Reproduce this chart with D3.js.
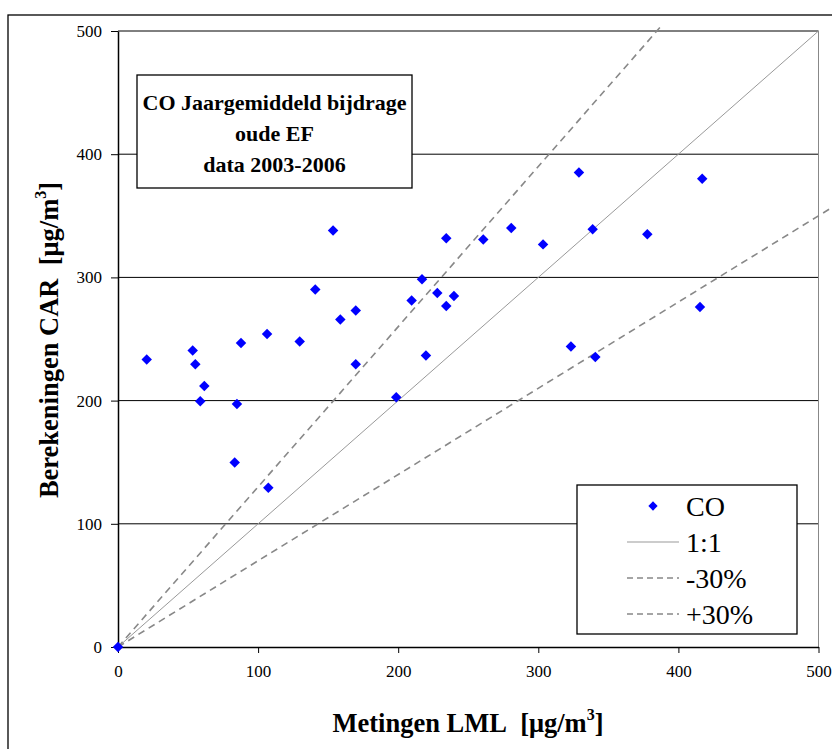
<!DOCTYPE html>
<html>
<head>
<meta charset="utf-8">
<script src="https://cdn.jsdelivr.net/npm/d3@7"></script>
<style>
  html, body { margin: 0; padding: 0; background: #fff; }
  svg { display: block; }
  svg text { font-family: "Liberation Serif", "Times New Roman", serif; }
</style>
</head>
<body>
<svg id="chart" width="832" height="749"></svg>
<script>
// Measured (LML) vs calculated (CAR) annual mean CO contribution, µg/m3
const measured = [0, 20.5, 53.3, 55.2, 61.6, 58.7, 84.9, 87.8, 106.4, 83.3, 107.3,
  153.5, 140.8, 129.7, 158.7, 169.7, 169.7, 198.6, 209.6, 234.3, 260.7, 280.7,
  303.4, 217.0, 227.9, 239.8, 234.3, 219.8, 329.0, 417.0, 338.8, 377.8, 415.4,
  323.3, 340.7];
const calculated = [0, 233.3, 240.6, 229.5, 211.9, 199.5, 197.3, 246.8, 254.1, 149.8, 129.2,
  338.0, 290.1, 247.9, 265.8, 273.1, 229.5, 202.8, 281.2, 331.7, 330.7, 340.1,
  326.8, 298.5, 287.3, 284.9, 276.8, 236.6, 385.2, 380.1, 339.0, 335.0, 276.0,
  243.9, 235.4];

// Reference lines: y = factor * x over the given x range
const refNames = ["1:1", "-30%", "+30%"];
const refFactors = [1, 0.7, 1.3];
const refXEnd = [500, 530, 388];

const xTicks = [0, 100, 200, 300, 400, 500];
const yTicks = [0, 100, 200, 300, 400, 500];
const titleLines = ["CO Jaargemiddeld bijdrage", "oude EF", "data 2003-2006"];
const legendLabels = ["CO", "1:1", "-30%", "+30%"];

const SERIF = "Liberation Serif, Times New Roman, serif";
const svg = d3.select("#chart");
const plot = { left: 118, right: 818.5, top: 31, bottom: 647 };

const x = d3.scaleLinear().domain([0, 500]).range([plot.left, plot.right]);
const y = d3.scaleLinear().domain([0, 500]).range([plot.bottom, plot.top]);

// outer chart frame
svg.append("rect")
  .attr("x", 8).attr("y", 15).attr("width", 900).attr("height", 900)
  .attr("fill", "none").attr("stroke", "#000").attr("stroke-width", 1.3);

// horizontal gridlines
svg.append("g").selectAll("line")
  .data(yTicks.filter(d => d > 0))
  .join("line")
  .attr("x1", plot.left).attr("x2", plot.right)
  .attr("y1", d => y(d)).attr("y2", d => y(d))
  .attr("stroke", "#000").attr("stroke-width", 1);

// right edge of plot area
svg.append("line")
  .attr("x1", plot.right).attr("x2", plot.right)
  .attr("y1", plot.top).attr("y2", plot.bottom)
  .attr("stroke", "#888").attr("stroke-width", 1);

// reference lines
const refStyle = [
  { stroke: "#999", width: 1, dash: null },
  { stroke: "#888", width: 1.6, dash: "7,5" },
  { stroke: "#888", width: 1.6, dash: "7,5" }
];
refNames.forEach((name, i) => {
  const f = refFactors[i];
  const pts = [[0, 0], [refXEnd[i], refXEnd[i] * f]];
  svg.append("path")
    .datum(pts)
    .attr("d", d3.line().x(d => x(d[0])).y(d => y(d[1])))
    .attr("fill", "none")
    .attr("stroke", refStyle[i].stroke)
    .attr("stroke-width", refStyle[i].width)
    .attr("stroke-dasharray", refStyle[i].dash);
});

// axes
const xAxis = svg.append("g")
  .attr("transform", `translate(0,${plot.bottom})`)
  .call(d3.axisBottom(x).tickValues(xTicks).tickSize(6).tickPadding(12).tickSizeOuter(0));
const yAxis = svg.append("g")
  .attr("transform", `translate(${plot.left},0)`)
  .call(d3.axisLeft(y).tickValues(yTicks).tickSize(7).tickPadding(9).tickSizeOuter(0));
[xAxis, yAxis].forEach(g => {
  g.attr("font-family", SERIF);
  g.select(".domain").attr("stroke", "#000").attr("stroke-width", 1.5);
  g.selectAll(".tick line").attr("stroke", "#000").attr("stroke-width", 1);
  g.selectAll(".tick text")
    .attr("font-family", SERIF)
    .attr("font-size", 17).attr("fill", "#000");
});

// data points (diamonds)
const diamond = d3.symbol().type(d3.symbolDiamond2).size(70);
svg.append("g").selectAll("path")
  .data(measured.map((m, i) => [m, calculated[i]]))
  .join("path")
  .attr("d", diamond)
  .attr("transform", d => `translate(${x(d[0])},${y(d[1])})`)
  .attr("fill", "#0000ff");

// title box
const tb = { x: 137, y: 75, w: 275, h: 113 };
svg.append("rect")
  .attr("x", tb.x).attr("y", tb.y).attr("width", tb.w).attr("height", tb.h)
  .attr("fill", "#fff").attr("stroke", "#000").attr("stroke-width", 1.3);
svg.append("text")
  .attr("x", tb.x + tb.w / 2).attr("y", tb.y + 35)
  .attr("font-family", SERIF)
  .attr("text-anchor", "middle").attr("font-weight", "bold").attr("font-size", 22)
  .selectAll("tspan").data(titleLines).join("tspan")
  .attr("x", tb.x + tb.w / 2).attr("dy", (d, i) => i === 0 ? 0 : 31)
  .text(d => d);

// legend
const lg = { x: 577, y: 485, w: 220, h: 149 };
svg.append("rect")
  .attr("x", lg.x).attr("y", lg.y).attr("width", lg.w).attr("height", lg.h)
  .attr("fill", "#fff").attr("stroke", "#000").attr("stroke-width", 1.3);
const rowY = [506, 542, 578, 614];
legendLabels.forEach((label, i) => {
  const ry = rowY[i];
  if (i === 0) {
    svg.append("path").attr("d", d3.symbol().type(d3.symbolDiamond2).size(55))
      .attr("transform", `translate(653,${ry})`).attr("fill", "#0000ff");
  } else {
    const st = refStyle[i - 1];
    svg.append("line")
      .attr("x1", 627).attr("x2", 679).attr("y1", ry).attr("y2", ry)
      .attr("stroke", st.stroke).attr("stroke-width", st.width)
      .attr("stroke-dasharray", st.dash ? "6,4" : null);
  }
  svg.append("text")
    .attr("x", 686).attr("y", ry + 10)
    .attr("font-family", SERIF)
    .attr("font-size", 28).attr("fill", "#000")
    .text(label);
});

// axis titles
const xTitle = svg.append("text")
  .attr("x", 468).attr("y", 732)
  .attr("font-family", SERIF)
  .attr("text-anchor", "middle").attr("font-weight", "bold").attr("font-size", 26.5);
xTitle.append("tspan").text("Metingen LML\u00a0\u00a0[μg/m");
xTitle.append("tspan").attr("font-size", 16).attr("dy", -12).text("3");
xTitle.append("tspan").attr("dy", 12).text("]");

const yTitle = svg.append("text")
  .attr("transform", "translate(58,340) rotate(-90)")
  .attr("font-family", SERIF)
  .attr("text-anchor", "middle").attr("font-weight", "bold").attr("font-size", 26.5);
yTitle.append("tspan").text("Berekeningen CAR\u00a0\u00a0[μg/m");
yTitle.append("tspan").attr("font-size", 16).attr("dy", -12).text("3");
yTitle.append("tspan").attr("dy", 12).text("]");
</script>
</body>
</html>
